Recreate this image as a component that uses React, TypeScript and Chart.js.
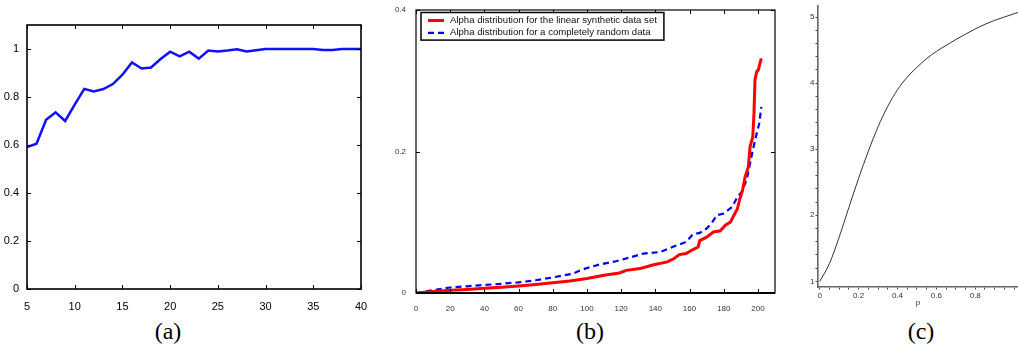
import React, { useEffect, useRef } from "react";
import { Chart, registerables } from "chart.js";

Chart.register(...registerables);

// ---------- Panel (a) ----------
const aX = [5, 6, 7, 8, 9, 10, 11, 12, 13, 14, 15, 16, 17, 18, 19, 20, 21, 22, 23, 24, 25, 26, 27, 28, 29, 30, 31, 32, 33, 34, 35, 36, 37, 38, 39, 40];
const aY = [0.591, 0.605, 0.705, 0.736, 0.7, 0.768, 0.834, 0.823, 0.833, 0.854, 0.893, 0.944, 0.919, 0.923, 0.958, 0.989, 0.969, 0.989, 0.96, 0.994, 0.99, 0.994, 0.999, 0.99, 0.995, 1, 1, 1, 1, 1, 1, 0.996, 0.996, 1, 1, 1];
const aXTicks = [5, 10, 15, 20, 25, 30, 35, 40];
const aYTicks = [0, 0.2, 0.4, 0.6, 0.8, 1];

// ---------- Panel (b) ----------
const bLabels = [
  "Alpha distribution for the linear synthetic data set",
  "Alpha distribution for a completely random data",
];
const bRedX = [0, 10, 20, 30, 40, 50, 60, 70, 80, 90, 100, 110, 119, 123, 131, 139, 147, 151, 154, 158, 162, 165, 166, 170, 174, 178, 181, 184, 186, 188, 189.5, 191, 192.5, 194.4, 195.4, 197, 197.7, 198.3, 199.3, 200.2, 201.2, 202];
const bRedY = [0, 0.002, 0.0038, 0.005, 0.0066, 0.0082, 0.01, 0.012, 0.0145, 0.017, 0.0205, 0.025, 0.0283, 0.032, 0.0345, 0.04, 0.0439, 0.0487, 0.0543, 0.0557, 0.0614, 0.065, 0.074, 0.079, 0.0863, 0.088, 0.0958, 0.1005, 0.11, 0.119, 0.1336, 0.145, 0.164, 0.178, 0.2066, 0.2207, 0.254, 0.301, 0.313, 0.315, 0.3246, 0.3316];
const bBlueX = [0, 12, 20, 30, 40, 50, 60, 70, 80, 92, 96, 102, 108, 117, 125, 133, 143, 150, 158, 162, 166, 170, 173, 176, 180, 185, 188, 190.5, 193.4, 195, 197, 199.3, 200.8, 202];
const bBlueY = [0, 0.0048, 0.0078, 0.0095, 0.0113, 0.013, 0.0151, 0.018, 0.022, 0.0274, 0.0321, 0.0368, 0.0406, 0.0449, 0.0501, 0.0557, 0.058, 0.065, 0.0722, 0.083, 0.0849, 0.0911, 0.099, 0.11, 0.1123, 0.1217, 0.1358, 0.1429, 0.1595, 0.178, 0.2019, 0.2255, 0.2397, 0.263];
const bXTicks = [0, 20, 40, 60, 80, 100, 120, 140, 160, 180, 200];
const bYTicks = [0, 0.2, 0.4];

// ---------- Panel (c) ----------
const cP = [0, 0.05, 0.1, 0.15, 0.2, 0.25, 0.3, 0.35, 0.4, 0.45, 0.5, 0.55, 0.6, 0.65, 0.7, 0.75, 0.8, 0.85, 0.9, 0.95, 1.0, 1.02];
const cV = [1.0, 1.27, 1.67, 2.12, 2.56, 2.97, 3.34, 3.65, 3.9, 4.09, 4.24, 4.37, 4.48, 4.57, 4.66, 4.74, 4.82, 4.89, 4.95, 5.0, 5.05, 5.07];
const cXTicks = [0, 0.05, 0.1, 0.15, 0.2, 0.25, 0.3, 0.35, 0.4, 0.45, 0.5, 0.55, 0.6, 0.65, 0.7, 0.75, 0.8, 0.85, 0.9, 0.95, 1.0];
const cXLabels = [0, 0.2, 0.4, 0.6, 0.8];
const cYTicks = [1, 1.2, 1.4, 1.6, 1.8, 2, 2.2, 2.4, 2.6, 2.8, 3, 3.2, 3.4, 3.6, 3.8, 4, 4.2, 4.4, 4.6, 4.8, 5];
const cYLabels = [1, 2, 3, 4, 5];
const cXTitle = "p";

const panelTitles = ["(a)", "(b)", "(c)"];

const SANS = "'Liberation Sans', Arial, Helvetica, sans-serif";

const toPoints = (xs: number[], ys: number[]) => xs.map((x, i) => ({ x, y: ys[i] }));
const setTicks = (vals: number[]) => (scale: any) => {
  scale.ticks = vals.map((value) => ({ value }));
};
const inList = (list: number[], v: number) => list.some((l) => Math.abs(l - v) < 1e-9);

// Box with inward ticks (MATLAB style)
const boxTicks = {
  id: "boxTicks",
  afterDatasetsDraw(chart: any, _args: any, opts: any) {
    const { ctx, chartArea, scales } = chart;
    const { left, right, top, bottom } = chartArea;
    const len = opts.len ?? 4;
    ctx.save();
    ctx.strokeStyle = "#000";
    ctx.lineWidth = opts.lineWidth ?? 1.5;
    ctx.strokeRect(left, top, right - left, bottom - top);
    if (opts.bottomWidth) {
      ctx.lineWidth = opts.bottomWidth;
      ctx.beginPath();
      ctx.moveTo(left, bottom);
      ctx.lineTo(right, bottom);
      ctx.stroke();
    }
    ctx.lineWidth = 1;
    ctx.beginPath();
    scales.x.ticks.forEach((t: any) => {
      const px = Math.round(scales.x.getPixelForValue(t.value)) + 0.5;
      ctx.moveTo(px, bottom);
      ctx.lineTo(px, bottom - len);
      ctx.moveTo(px, top);
      ctx.lineTo(px, top + len);
    });
    scales.y.ticks.forEach((t: any) => {
      const py = Math.round(scales.y.getPixelForValue(t.value)) + 0.5;
      ctx.moveTo(left, py);
      ctx.lineTo(left + len, py);
      ctx.moveTo(right, py);
      ctx.lineTo(right - len, py);
    });
    ctx.stroke();
    ctx.restore();
  },
};

// Legend box drawn inside the plot area
const insideLegend = {
  id: "insideLegend",
  afterDraw(chart: any, _args: any, opts: any) {
    const { ctx, chartArea } = chart;
    const ds = chart.data.datasets;
    ctx.save();
    ctx.font = opts.font;
    const textW = Math.max(...ds.map((d: any) => ctx.measureText(d.label).width));
    const x0 = chartArea.left + opts.dx;
    const y0 = chartArea.top + opts.dy;
    const w = 30 + textW + 6;
    const h = opts.rowH * ds.length + 3;
    ctx.fillStyle = "#fff";
    ctx.fillRect(x0, y0, w, h);
    ctx.strokeStyle = "#000";
    ctx.lineWidth = 1.5;
    ctx.strokeRect(x0, y0, w, h);
    ds.forEach((d: any, i: number) => {
      const cy = y0 + 8 + i * opts.rowH;
      ctx.strokeStyle = d.borderColor;
      ctx.lineWidth = d.borderWidth;
      ctx.setLineDash(d.borderDash || []);
      ctx.beginPath();
      ctx.moveTo(x0 + 7, cy);
      ctx.lineTo(x0 + 23, cy);
      ctx.stroke();
      ctx.setLineDash([]);
      ctx.fillStyle = "#111";
      ctx.textBaseline = "middle";
      ctx.textAlign = "left";
      ctx.fillText(d.label, x0 + 29, cy);
    });
    ctx.restore();
  },
};

function useChart(ref: React.RefObject<HTMLCanvasElement>, make: () => any) {
  useEffect(() => {
    if (!ref.current) return;
    const c = new Chart(ref.current, make());
    return () => c.destroy();
  }, []);
}

export default function App() {
  const refA = useRef<HTMLCanvasElement>(null);
  const refB = useRef<HTMLCanvasElement>(null);
  const refC = useRef<HTMLCanvasElement>(null);

  useChart(refA, () => ({
    type: "line",
    data: {
      datasets: [
        {
          data: toPoints(aX, aY),
          borderColor: "#1010ff",
          borderWidth: 2.5,
          pointRadius: 0,
          tension: 0,
        },
      ],
    },
    options: {
      animation: false,
      responsive: false,
      layout: { padding: { top: 25, right: 11, left: 0, bottom: 0 } },
      plugins: { legend: { display: false }, tooltip: { enabled: false }, boxTicks: { len: 4, lineWidth: 1.6 } },
      scales: {
        x: {
          type: "linear",
          min: 5,
          max: 40,
          afterBuildTicks: setTicks(aXTicks),
          afterFit: (s: any) => { s.height = 23; },
          grid: { display: false },
          border: { display: false },
          ticks: { autoSkip: false, maxRotation: 0, padding: 3, color: "#000", font: { family: SANS, size: 11 }, callback: (v: number) => String(v) },
        },
        y: {
          type: "linear",
          min: 0,
          max: 1.1,
          afterBuildTicks: setTicks(aYTicks),
          afterFit: (s: any) => { s.width = 27; },
          grid: { display: false },
          border: { display: false },
          ticks: { autoSkip: false, padding: 0, color: "#000", font: { family: SANS, size: 11 }, callback: (v: number) => String(v) },
        },
      },
    },
    plugins: [boxTicks],
  }));

  useChart(refB, () => ({
    type: "line",
    data: {
      datasets: [
        {
          label: bLabels[0],
          data: toPoints(bRedX, bRedY),
          borderColor: "#ff0000",
          borderWidth: 3,
          pointRadius: 0,
          tension: 0,
        },
        {
          label: bLabels[1],
          data: toPoints(bBlueX, bBlueY),
          borderColor: "#0000ff",
          borderWidth: 2.2,
          borderDash: [6, 4],
          pointRadius: 0,
          tension: 0,
        },
      ],
    },
    options: {
      animation: false,
      responsive: false,
      layout: { padding: { top: 10, right: 15, left: 0, bottom: 0 } },
      plugins: {
        legend: { display: false },
        tooltip: { enabled: false },
        boxTicks: { len: 4, lineWidth: 1.2, bottomWidth: 2.2 },
        insideLegend: { dx: 5, dy: 2.5, rowH: 12.3, font: "9.6px " + SANS },
      },
      scales: {
        x: {
          type: "linear",
          min: 0,
          max: 210,
          afterBuildTicks: setTicks(bXTicks),
          afterFit: (s: any) => { s.height = 19; },
          grid: { display: false },
          border: { display: false },
          ticks: { autoSkip: false, maxRotation: 0, padding: 3, color: "#333", font: { family: SANS, size: 8 }, callback: (v: number) => String(v) },
        },
        y: {
          type: "linear",
          min: 0,
          max: 0.4,
          afterBuildTicks: setTicks(bYTicks),
          afterFit: (s: any) => { s.width = 41; },
          grid: { display: false },
          border: { display: false },
          ticks: { autoSkip: false, padding: 2, color: "#333", font: { family: SANS, size: 8 }, callback: (v: number) => String(v) },
        },
      },
    },
    plugins: [boxTicks, insideLegend],
  }));

  useChart(refC, () => ({
    type: "line",
    data: {
      datasets: [
        {
          data: toPoints(cP, cV),
          borderColor: "#333",
          borderWidth: 1,
          pointRadius: 0,
          cubicInterpolationMode: "monotone",
        },
      ],
    },
    options: {
      animation: false,
      responsive: false,
      layout: { padding: { top: 2, right: 0, left: 0, bottom: 0 } },
      plugins: { legend: { display: false }, tooltip: { enabled: false } },
      scales: {
        x: {
          type: "linear",
          min: -0.009,
          max: 1.02,
          afterBuildTicks: setTicks(cXTicks),
          afterFit: (s: any) => { s.height = 25; },
          grid: { display: true, drawOnChartArea: false, drawTicks: true, tickLength: 2.5, color: "#444" },
          border: { display: true, color: "#666", width: 1.6 },
          title: { display: true, text: cXTitle, color: "#333", font: { family: SANS, size: 8 }, padding: { top: 0, bottom: 4 } },
          ticks: {
            autoSkip: false,
            maxRotation: 0,
            padding: 1,
            color: "#333",
            font: { family: SANS, size: 8 },
            callback: (v: number) => (inList(cXLabels, v) ? String(v) : ""),
          },
        },
        y: {
          type: "linear",
          min: 0.915,
          max: 5.17,
          afterBuildTicks: setTicks(cYTicks),
          afterFit: (s: any) => { s.width = 28; },
          grid: { display: true, drawOnChartArea: false, drawTicks: true, tickLength: 2.5, color: "#444" },
          border: { display: true, color: "#666", width: 1.6 },
          ticks: {
            autoSkip: false,
            padding: 1,
            color: "#333",
            font: { family: SANS, size: 8 },
            callback: (v: number) => (inList(cYLabels, v) ? String(v) : ""),
          },
        },
      },
    },
  }));

  const titleStyle = (cx: number): React.CSSProperties => ({
    position: "absolute",
    left: cx - 40,
    width: 80,
    top: 317,
    textAlign: "center",
    fontFamily: "'Liberation Serif', 'Times New Roman', serif",
    fontSize: 24,
    lineHeight: "28px",
    color: "#000",
  });

  return (
    <div style={{ position: "absolute", left: 0, top: 0, width: 1018, height: 349, background: "#fff", overflow: "hidden" }}>
      <canvas ref={refA} width={372} height={312} style={{ position: "absolute", left: 0, top: 0 }} />
      <canvas ref={refB} width={415} height={312} style={{ position: "absolute", left: 375, top: 0 }} />
      <canvas ref={refC} width={228} height={312} style={{ position: "absolute", left: 790, top: 0 }} />
      <div style={titleStyle(168)}>{panelTitles[0]}</div>
      <div style={titleStyle(590)}>{panelTitles[1]}</div>
      <div style={titleStyle(921)}>{panelTitles[2]}</div>
    </div>
  );
}
